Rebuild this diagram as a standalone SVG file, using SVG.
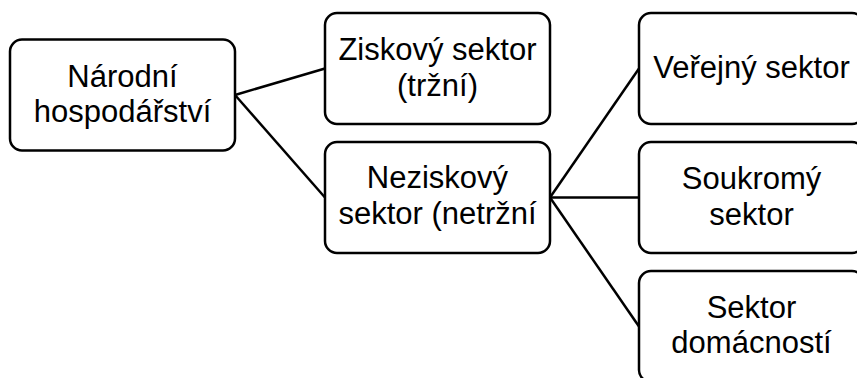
<svg xmlns="http://www.w3.org/2000/svg" width="857" height="378" viewBox="0 0 857 378">
<style>
.box{fill:#fff;stroke:#000;stroke-width:2.5}
.lbl{font-family:"Liberation Sans",Arial,sans-serif;font-size:31px;fill:#000;text-anchor:middle}
.conn{stroke:#000;stroke-width:2.5;fill:none}
</style>
<rect width="857" height="378" fill="#fff"/>
<g id="connectors">
<line class="conn" x1="235" y1="95" x2="325" y2="68.5"/>
<line class="conn" x1="235" y1="95" x2="325" y2="197.5"/>
<line class="conn" x1="550" y1="197.5" x2="639" y2="68.5"/>
<line class="conn" x1="550" y1="197.5" x2="639" y2="197.5"/>
<line class="conn" x1="550" y1="197.5" x2="639" y2="326.5"/>
</g>
<g id="narodni">
<rect class="box" x="10" y="39.5" width="225" height="111" rx="12"/>
<text class="lbl" x="122.5" y="86.5">Národní</text>
<text class="lbl" x="122.5" y="122">hospodářství</text>
</g>
<g id="ziskovy">
<rect class="box" x="325" y="13" width="225" height="111" rx="12"/>
<text class="lbl" x="437.5" y="60">Ziskový sektor</text>
<text class="lbl" x="437.5" y="95.5">(tržní)</text>
</g>
<g id="neziskovy">
<rect class="box" x="325" y="142" width="225" height="111" rx="12"/>
<text class="lbl" x="437.5" y="188">Neziskový</text>
<text class="lbl" x="437.5" y="224">sektor (netržní</text>
</g>
<g id="verejny">
<rect class="box" x="639" y="13" width="225" height="111" rx="12"/>
<text class="lbl" x="751.5" y="77.5">Veřejný sektor</text>
</g>
<g id="soukromy">
<rect class="box" x="639" y="142" width="225" height="111" rx="12"/>
<text class="lbl" x="751.5" y="189">Soukromý</text>
<text class="lbl" x="751.5" y="225">sektor</text>
</g>
<g id="domacnosti">
<rect class="box" x="639" y="271" width="225" height="111" rx="12"/>
<text class="lbl" x="751.5" y="317.5">Sektor</text>
<text class="lbl" x="751.5" y="353">domácností</text>
</g>
</svg>
